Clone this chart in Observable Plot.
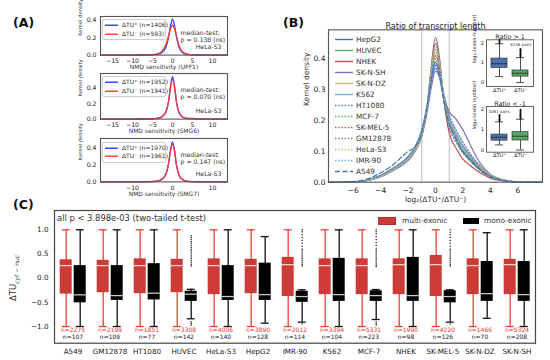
<!DOCTYPE html>
<html><head><meta charset="utf-8">
<script src="https://cdn.jsdelivr.net/npm/d3@7"></script>
<script src="https://cdn.jsdelivr.net/npm/@observablehq/plot@0.6"></script>
<style>
body{margin:0;background:#fff;font-family:"DejaVu Sans",sans-serif;color:#222;}
#root{position:relative;width:550px;height:360px;overflow:hidden;background:#fff;}
.t{position:absolute;white-space:nowrap;}
</style></head><body><div id="root"></div>
<script>
// ---------------- DATA ----------------
// Panel A: NMD sensitivity kernel densities (HeLa-S3)
const nmdFactors = ["UPF1", "SMG6", "SMG7"];
const nmdPlusN = [1406, 1952, 1970];
const nmdMinusN = [593, 1941, 1961];
const nmdP = ["0.138", "0.070", "0.147"];
const nmdX = [-18,-12,-8,-6,-5,-4,-3,-2.5,-2,-1.5,-1,-0.5,0,0.5,1,1.5,2,2.5,3,4,5,6,8,13.75];
const upf1Plus  = [0,0,0.001,0.002,0.004,0.008,0.02,0.035,0.06,0.11,0.2,0.33,0.41,0.34,0.21,0.11,0.055,0.03,0.016,0.006,0.003,0.001,0,0];
const upf1Minus = [0,0,0.001,0.003,0.006,0.012,0.03,0.05,0.085,0.14,0.22,0.3,0.34,0.3,0.21,0.13,0.07,0.04,0.022,0.008,0.004,0.001,0,0];
const smg6Plus  = [0,0,0.001,0.002,0.004,0.008,0.02,0.035,0.06,0.11,0.22,0.42,0.55,0.43,0.22,0.1,0.05,0.028,0.016,0.008,0.01,0.003,0,0];
const smg6Minus = [0,0,0.001,0.003,0.005,0.01,0.024,0.04,0.068,0.12,0.23,0.41,0.52,0.41,0.22,0.11,0.055,0.03,0.017,0.007,0.004,0.001,0,0];
const smg7Plus  = [0,0,0.001,0.002,0.004,0.008,0.02,0.035,0.06,0.11,0.21,0.38,0.48,0.38,0.2,0.1,0.05,0.028,0.015,0.006,0.003,0.001,0,0];
const smg7Minus = [0,0,0.001,0.003,0.005,0.01,0.024,0.04,0.067,0.12,0.22,0.37,0.45,0.37,0.2,0.1,0.052,0.03,0.016,0.006,0.003,0.001,0,0];

// Panel B: ratio of transcript length densities
const ratioCells = ["HepG2","HUVEC","NHEK","SK-N-SH","SK-N-DZ","K562","HT1080","MCF-7","SK-MEL-5","GM12878","HeLa-S3","IMR-90","A549"];
const ratioX = [-7.8,-6,-5,-4,-3,-2.5,-2,-1.5,-1,-0.6,-0.3,0,0.3,0.6,1,1.5,2,2.5,3,3.5,4,5,6,7.8];
const densHepG2   = [0,0.001,0.007,0.022,0.048,0.063,0.083,0.115,0.17,0.25,0.33,0.37,0.34,0.27,0.2,0.15,0.115,0.085,0.058,0.037,0.022,0.006,0.001,0];
const densHUVEC   = [0,0.001,0.006,0.02,0.045,0.06,0.08,0.11,0.165,0.25,0.34,0.39,0.35,0.27,0.19,0.14,0.1,0.075,0.05,0.032,0.018,0.005,0.001,0];
const densNHEK    = [0,0.001,0.006,0.02,0.042,0.057,0.075,0.1,0.15,0.25,0.38,0.47,0.4,0.27,0.16,0.11,0.075,0.055,0.038,0.024,0.013,0.004,0.001,0];
const densSKNSH   = [0,0.001,0.005,0.017,0.04,0.053,0.07,0.1,0.15,0.23,0.31,0.36,0.34,0.28,0.23,0.205,0.17,0.125,0.08,0.048,0.026,0.007,0.001,0];
const densSKNDZ   = [0,0.001,0.006,0.019,0.043,0.058,0.077,0.105,0.155,0.25,0.36,0.42,0.37,0.28,0.2,0.15,0.115,0.09,0.065,0.042,0.024,0.007,0.001,0];
const densK562    = [0,0.001,0.006,0.021,0.047,0.062,0.082,0.112,0.165,0.25,0.33,0.38,0.35,0.28,0.21,0.16,0.12,0.088,0.06,0.038,0.022,0.006,0.001,0];
const densHT1080  = [0,0.001,0.007,0.022,0.046,0.062,0.082,0.108,0.155,0.25,0.37,0.45,0.39,0.27,0.18,0.13,0.095,0.07,0.048,0.03,0.017,0.005,0.001,0];
const densMCF7    = [0,0.001,0.006,0.02,0.044,0.059,0.079,0.107,0.155,0.25,0.36,0.43,0.38,0.27,0.19,0.14,0.1,0.074,0.05,0.031,0.017,0.005,0.001,0];
const densSKMEL5  = [0,0.001,0.006,0.02,0.045,0.06,0.08,0.11,0.16,0.25,0.35,0.41,0.37,0.28,0.2,0.15,0.11,0.08,0.055,0.035,0.02,0.006,0.001,0];
const densGM12878 = [0,0.001,0.006,0.02,0.044,0.06,0.08,0.11,0.16,0.24,0.33,0.38,0.36,0.29,0.22,0.17,0.13,0.095,0.065,0.04,0.023,0.007,0.001,0];
const densHeLaS3  = [0,0.001,0.006,0.019,0.042,0.057,0.076,0.104,0.152,0.25,0.37,0.44,0.39,0.28,0.19,0.14,0.105,0.08,0.058,0.038,0.022,0.007,0.001,0];
const densIMR90   = [0,0.001,0.006,0.02,0.045,0.06,0.08,0.11,0.16,0.25,0.35,0.40,0.36,0.28,0.2,0.15,0.11,0.082,0.056,0.035,0.02,0.006,0.001,0];
const densA549    = [0,0.002,0.01,0.03,0.06,0.08,0.1,0.115,0.16,0.25,0.34,0.39,0.35,0.27,0.19,0.14,0.1,0.075,0.052,0.033,0.019,0.006,0.001,0];
const ratioThresholds = [-1, 1];

// Panel B insets: log10(exon number)
const insetGroups = ["ΔTU⁺", "ΔTU⁻"];
const gt1Q1 = [0.74, 0.30], gt1Med = [0.95, 0.47], gt1Q3 = [1.21, 0.61], gt1Lo = [0.30, 0.0], gt1Hi = [1.96, 1.26];
const gt1OutPlus = [2.0, 2.05, 2.1, 2.15];
const gt1OutMinus = [1.3, 1.34, 1.38, 1.42, 1.46, 1.5, 1.54, 1.58, 1.62, 1.66, 1.7];
const lt1Q1 = [0.46, 0.47], lt1Med = [0.63, 0.68], lt1Q3 = [0.76, 0.88], lt1Lo = [0.25, 0.0], lt1Hi = [1.39, 1.52];
const lt1OutPlus = [1.43, 1.47, 1.51, 1.55, 1.6, 1.65, 1.7, 1.73];
const lt1OutMinus = [1.56, 1.6, 1.64, 1.68, 1.72, 1.76, 1.8, 1.85, 1.9, 1.95, 2.0];

// Panel C: ΔTU cyt-nuc boxplots
const cLines = ["A549","GM12878","HT1080","HUVEC","HeLa-S3","HepG2","IMR-90","K562","MCF-7","NHEK","SK-MEL-5","SK-N-DZ","SK-N-SH"];
const multiQ1  = [-0.33,-0.30,-0.32,-0.30,-0.34,-0.32,-0.38,-0.34,-0.34,-0.34,-0.38,-0.34,-0.34];
const multiMed = [0.26,0.26,0.26,0.26,0.26,0.26,0.28,0.26,0.26,0.28,0.28,0.26,0.28];
const multiQ3  = [0.38,0.37,0.40,0.39,0.40,0.39,0.43,0.40,0.40,0.40,0.47,0.40,0.39];
const multiLo  = [-1,-1,-1,-1,-1,-1,-1,-1,-1,-1,-1,-1,-1];
const multiHi  = [1,1,1,1,1,1,1,1,1,1,1,1,1];
const monoQ1   = [-0.51,-0.46,-0.45,-0.48,-0.46,-0.46,-0.50,-0.48,-0.48,-0.48,-0.51,-0.48,-0.48];
const monoMed  = [-0.345,-0.36,-0.31,-0.33,-0.38,-0.34,-0.38,-0.34,-0.36,-0.36,-0.38,-0.32,-0.34];
const monoQ3   = [0.26,0.26,0.30,-0.27,0.26,0.31,-0.27,0.41,-0.26,0.43,-0.26,0.345,0.345];
const monoLo   = [-1,-1,-1,-0.84,-1,-0.93,-0.91,-1,-0.855,-1,-0.91,-0.83,-1];
const monoHi   = [1,1,1,-0.23,1,0.86,-0.24,1,-0.235,1,-0.24,0.94,1];
const nMulti = [2275,2199,1851,3308,4006,3890,2012,3394,5331,1990,4220,1466,5324];
const nMono  = [107,109,77,142,140,128,114,104,223,98,126,70,208];
const outHUVEC  = [0.88,0.84,0.80,0.76,0.72,0.68,0.64,0.60,0.56,0.52,0.48,0.44,0.40,0.36,0.32,0.28,0.25,-0.90,-0.94,-0.97];
const outIMR90  = [1.0,0.96,0.90,0.84,0.78,0.72,0.66,0.60,0.56,0.52,0.48,0.44,0.40,0.36,0.32,0.28,0.25,-0.95];
const outMCF7   = [1.0,0.96,0.92,0.86,0.80,0.74,0.68,0.62,0.58,0.54,0.50,0.46,0.42,0.38,0.34,0.30,0.27,0.24,-0.90,-0.94,-0.97];
const outSKMEL5 = [1.0,0.95,0.90,0.84,0.78,0.72,0.66,0.60,0.56,0.52,0.48,0.44,0.40,0.36,0.32,0.28,0.25,-0.95];

// ---------------- STYLE ----------------
const FONT = "DejaVu Sans";
const deep = ["#4c72b0","#55a868","#c44e52","#8172b2","#ccb974","#64b5cd"];
const ratioColors = [...deep, ...deep, "#4c72b0"];
const ratioDash = ["none","none","none","none","none","none","1.4,1.8","1.4,1.8","1.4,1.8","1.4,1.8","1.4,1.8","1.4,1.8","5,2.5"];
const blueA = "#2a3cff", redA = "#ff3a3a";
const redBox = "#cc3b35", redWhisk = "#ee4136";

const root = document.getElementById("root");
function place(el, left, top) {
  el.style.position = "absolute"; el.style.left = left + "px"; el.style.top = top + "px";
  root.appendChild(el); return el;
}
function html(str, left, top, css) {
  const d = document.createElement("div"); d.className = "t"; d.innerHTML = str;
  d.style.cssText += css || ""; return place(d, left, top);
}
const baseStyle = (fs) => ({fontFamily: FONT, fontSize: fs + "px", color: "#222", background: "transparent", overflow: "visible"});

// ---------------- PANEL A ----------------
const aPlus = [upf1Plus, smg6Plus, smg7Plus];
const aMinus = [upf1Minus, smg6Minus, smg7Minus];
const aFrameTop = [15.7, 72.7, 138.3], aFrameBottom = [54.3, 118.3, 181.7];
const aYMax = [0.44, 0.59, 0.52];
const aXTicks = [[-15,-10,-5,0,5,10], [-15,-10,-5,0,5,10], [-10,0,10]];
for (let i = 0; i < 3; i++) {
  const ft = aFrameTop[i], fb = aFrameBottom[i], mt = 10, mb = 22;
  const plusRows = nmdX.map((x, j) => ({x, y: aPlus[i][j]}));
  const minusRows = nmdX.map((x, j) => ({x, y: aMinus[i][j]}));
  const p = Plot.plot({
    width: 172, height: fb - ft + mt + mb,
    marginLeft: 40, marginRight: 5, marginTop: mt, marginBottom: mb,
    x: {domain: [-18, 13.75], ticks: aXTicks[i], tickFormat: d3.format("d"), tickSize: 0, tickPadding: 3.5, label: null},
    y: {domain: [0, aYMax[i]], ticks: [0, 0.2, 0.4], tickFormat: d3.format(".1f"), tickSize: 0, tickPadding: 4, label: null},
    style: baseStyle(6.2),
    marks: [
      Plot.line(plusRows, {x: "x", y: "y", stroke: blueA, strokeWidth: 1.3, curve: "monotone-x"}),
      Plot.line(minusRows, {x: "x", y: "y", stroke: redA, strokeWidth: 1.3, curve: "monotone-x"}),
      Plot.frame({stroke: "#555", strokeWidth: 1.1}),
      Plot.text(["median-test:\np = " + nmdP[i] + " (ns)"], {frameAnchor: "top-left", textAnchor: "start", dx: 80, dy: 13, lineHeight: 1.15, fontSize: 6.2, fill: "#333"}),
      Plot.text(["HeLa-S3"], {frameAnchor: "bottom-right", dx: -6, dy: -6, fontSize: 6.2, fill: "#333"}),
      Plot.text(["Kernel density"], {frameAnchor: "left", rotate: -90, dx: -20, fontSize: 5.2, fill: "#333"}),
      Plot.text([`NMD sensitivity (${nmdFactors[i]})`], {frameAnchor: "bottom", dy: 14, fontSize: 6, fill: "#333"})
    ]
  });
  place(p, 60, ft - mt);
  // legend
  const lg = document.createElement("div");
  lg.style.cssText = "border:1px solid #ccc;border-radius:2px;background:rgba(255,255,255,0.85);width:62px;padding:1px 0 1px 0;font-size:6px;color:#333;";
  lg.innerHTML = [["ΔTU⁺ (n=" + nmdPlusN[i] + ")", blueA], ["ΔTU⁻ (n=" + nmdMinusN[i] + ")", redA]].map(([t, c]) =>
    `<div style="height:8.5px;line-height:8.5px;white-space:nowrap;"><svg width="13" height="8.5" style="vertical-align:top;margin-left:2px"><line x1="0" x2="13" y1="4.25" y2="4.25" stroke="${c}" stroke-width="1.4"/></svg><span style="margin-left:4px">${t}</span></div>`).join("");
  place(lg, 102, ft + 3.5);
}
html("(A)", 13, 16, "font-weight:bold;font-size:12.5px;color:#111;line-height:14px;");

// ---------------- PANEL B ----------------
const ratioSeries = [densHepG2, densHUVEC, densNHEK, densSKNSH, densSKNDZ, densK562, densHT1080, densMCF7, densSKMEL5, densGM12878, densHeLaS3, densIMR90, densA549];
{
  const mt = 14.3, mb = 28.3;
  const p = Plot.plot({
    width: 260, height: 195, marginLeft: 38, marginRight: 8, marginTop: mt, marginBottom: mb,
    x: {domain: [-7.8, 7.8], ticks: [-6,-4,-2,0,2,4,6], tickFormat: d3.format("d"), tickSize: 0, tickPadding: 5.5, label: null},
    y: {domain: [0, 0.495], ticks: [0, 0.1, 0.2, 0.3, 0.4], tickFormat: d3.format(".1f"), tickSize: 0, tickPadding: 3, label: null},
    style: baseStyle(7.5),
    marks: [
      Plot.ruleX(ratioThresholds, {stroke: "#aaa", strokeWidth: 0.8}),
      ...ratioSeries.map((s, k) => Plot.line(ratioX.map((x, j) => ({x, y: s[j]})), {
        x: "x", y: "y", stroke: ratioColors[k], strokeWidth: 1.2, strokeDasharray: ratioDash[k], curve: "monotone-x"
      })),
      Plot.frame({stroke: "#555", strokeWidth: 1.1}),
      Plot.text(["Ratio of transcript length"], {frameAnchor: "top", dy: -6.6, fontSize: 8, fill: "#222"}),
      Plot.text(["Kernel density"], {frameAnchor: "left", rotate: -90, dx: -22, fontSize: 7.5, fill: "#333"}),
      Plot.text(["log₂(ΔTU⁺/ΔTU⁻)"], {frameAnchor: "bottom", dy: 20, fontSize: 7.5, fill: "#333"})
    ]
  });
  place(p, 290, 15);
  const lg = document.createElement("div");
  lg.style.cssText = "font-size:7.3px;color:#333;";
  lg.innerHTML = ratioCells.map((c, k) =>
    `<div style="height:11px;line-height:11px;white-space:nowrap;"><svg width="18" height="11" style="vertical-align:top"><line x1="0" x2="18" y1="5.5" y2="5.5" stroke="${ratioColors[k]}" stroke-width="1.4" ${ratioDash[k] === "none" ? "" : `stroke-dasharray="${ratioDash[k]}"`}/></svg><span style="margin-left:3px">${c}</span></div>`).join("");
  place(lg, 335, 33.5);
}
html("(B)", 283, 16, "font-weight:bold;font-size:12.5px;color:#111;line-height:14px;");

function inset(top, mt, mb, ydom, q1, med, q3, lo, hi, outP, outM, title, pairs, pairsLeft) {
  const rows = insetGroups.map((g, i) => ({g, q1: q1[i], med: med[i], q3: q3[i], lo: lo[i], hi: hi[i]}));
  const outs = [...outP.map(y => ({g: insetGroups[0], y})), ...outM.map(y => ({g: insetGroups[1], y}))];
  const p = Plot.plot({
    width: 68, height: 66, marginLeft: 16, marginRight: 5, marginTop: mt, marginBottom: mb,
    x: {domain: insetGroups, padding: 0.22, tickSize: 0, tickPadding: 1.5, label: null},
    y: {domain: ydom, ticks: [0, 1, 2], tickFormat: d3.format("d"), tickSize: 0, tickPadding: 2.5, label: null},
    color: {domain: insetGroups, range: ["#4c72b0", "#55a868"]},
    style: baseStyle(5.2),
    marks: [
      Plot.frame({fill: "white", stroke: "#555", strokeWidth: 0.9}),
      Plot.ruleX(rows, {x: "g", y1: "lo", y2: "hi", stroke: "#222", strokeWidth: 0.8}),
      Plot.tickY(rows, {x: "g", y: "lo", stroke: "#222", strokeWidth: 0.8, insetLeft: 4, insetRight: 4}),
      Plot.tickY(rows, {x: "g", y: "hi", stroke: "#222", strokeWidth: 0.8, insetLeft: 4, insetRight: 4}),
      Plot.barY(rows, {x: "g", y1: "q1", y2: "q3", fill: "g", stroke: "#333", strokeWidth: 0.7}),
      Plot.tickY(rows, {x: "g", y: "med", stroke: "#222", strokeWidth: 0.8}),
      Plot.dot(outs, {x: "g", y: "y", r: 0.9, fill: "#111"}),
      Plot.text([title], {frameAnchor: "top", dy: -5, fontSize: 6.3, fill: "#222"}),
      Plot.text([pairs], pairsLeft
        ? {frameAnchor: "top-left", textAnchor: "start", dx: 2, dy: 3.5, fontSize: 4, fill: "#333"}
        : {frameAnchor: "top-right", textAnchor: "end", dx: -2, dy: 3.5, fontSize: 4, fill: "#333"}),
      Plot.text(["log₁₀(exon number)"], {frameAnchor: "left", rotate: -90, dx: -12.5, fontSize: 5, fill: "#333"})
    ]
  });
  place(p, 470, top);
}
inset(28, 11.3, 8, [-0.2, 2.16], gt1Q1, gt1Med, gt1Q3, gt1Lo, gt1Hi, gt1OutPlus, gt1OutMinus, "Ratio > 1", "6136 pairs", false);
inset(95, 11, 9.3, [-0.11, 2.15], lt1Q1, lt1Med, lt1Q3, lt1Lo, lt1Hi, lt1OutPlus, lt1OutMinus, "Ratio < -1", "3261 pairs", true);

// ---------------- PANEL C ----------------
{
  const rows = cLines.map((cell, i) => ({
    cell, mQ1: multiQ1[i], mMed: multiMed[i], mQ3: multiQ3[i], mLo: multiLo[i], mHi: multiHi[i],
    sQ1: monoQ1[i], sMed: monoMed[i], sQ3: monoQ3[i], sLo: monoLo[i], sHi: monoHi[i],
    nM: nMulti[i], nS: nMono[i]
  }));
  const outs = [
    ...outHUVEC.map(y => ({cell: "HUVEC", y})), ...outIMR90.map(y => ({cell: "IMR-90", y})),
    ...outMCF7.map(y => ({cell: "MCF-7", y})), ...outSKMEL5.map(y => ({cell: "SK-MEL-5", y}))
  ];
  const M = () => "multi", S = () => "mono";
  const p = Plot.plot({
    width: 550, height: 160, marginLeft: 48.3, marginRight: 10, marginTop: 10, marginBottom: 17.3,
    fx: {domain: cLines, padding: 0, axis: "bottom", tickSize: 0, tickPadding: 6, label: null},
    x: {domain: ["multi", "mono"], paddingInner: 0.11, paddingOuter: 0.35, axis: null},
    y: {domain: [-1.345, 1.40], ticks: [-1, -0.5, 0, 0.5, 1], tickFormat: d3.format(".1f"), tickSize: 0, tickPadding: 6, label: null},
    style: baseStyle(7.2),
    marks: [
      Plot.ruleX(rows, {fx: "cell", x: M, y1: "mLo", y2: "mHi", stroke: redWhisk, strokeWidth: 1.3}),
      Plot.tickY(rows, {fx: "cell", x: M, y: "mLo", stroke: redWhisk, strokeWidth: 1.3, insetLeft: 2, insetRight: 2}),
      Plot.tickY(rows, {fx: "cell", x: M, y: "mHi", stroke: redWhisk, strokeWidth: 1.3, insetLeft: 2, insetRight: 2}),
      Plot.barY(rows, {fx: "cell", x: M, y1: "mQ1", y2: "mQ3", fill: redBox}),
      Plot.tickY(rows, {fx: "cell", x: M, y: "mMed", stroke: "#f6d3c8", strokeWidth: 1.3}),
      Plot.ruleX(rows, {fx: "cell", x: S, y1: "sLo", y2: "sHi", stroke: "#111", strokeWidth: 1.3}),
      Plot.tickY(rows, {fx: "cell", x: S, y: "sLo", stroke: "#111", strokeWidth: 1.3, insetLeft: 2, insetRight: 2}),
      Plot.tickY(rows, {fx: "cell", x: S, y: "sHi", stroke: "#111", strokeWidth: 1.3, insetLeft: 2, insetRight: 2}),
      Plot.barY(rows, {fx: "cell", x: S, y1: "sQ1", y2: "sQ3", fill: "#000"}),
      Plot.tickY(rows, {fx: "cell", x: S, y: "sMed", stroke: "#c8c8c8", strokeWidth: 1.3}),
      Plot.dot(outs, {fx: "cell", x: S, y: "y", r: 0.75, fill: "#222"}),
      Plot.text(rows, {fx: "cell", text: d => "n=" + d.nM, frameAnchor: "bottom", dy: -11, fontSize: 6, fill: "#e8392f"}),
      Plot.text(rows, {fx: "cell", text: d => "n=" + d.nS, frameAnchor: "bottom", dy: -4.4, fontSize: 6, fill: "#222"}),
      Plot.frame({facet: "super", stroke: "#444", strokeWidth: 1.2})
    ]
  });
  place(p, 0, 200);
}
html("(C)", 13, 198, "font-weight:bold;font-size:12.5px;color:#111;line-height:14px;");
html("all p &lt; 3.898e-03 (two-tailed t-test)", 57, 213, "font-size:8.4px;color:#333;line-height:10px;");
html('<span style="display:inline-block;width:16px;height:6.5px;background:' + redBox + ';vertical-align:middle;border:0.5px solid #a33"></span><span style="margin-left:6px;vertical-align:middle">multi-exonic</span>', 378, 216, "font-size:7.4px;color:#333;line-height:10px;");
html('<span style="display:inline-block;width:16px;height:6.5px;background:#000;vertical-align:middle"></span><span style="margin-left:5px;vertical-align:middle">mono-exonic</span>', 463, 216, "font-size:7.4px;color:#333;line-height:10px;");
html('ΔTU<sub style="font-size:6px;font-style:italic">cyt − nuc</sub>', 15, 278, "font-size:8.5px;color:#333;transform:translate(-50%,-50%) rotate(-90deg);line-height:10px;");
</script></body></html>
